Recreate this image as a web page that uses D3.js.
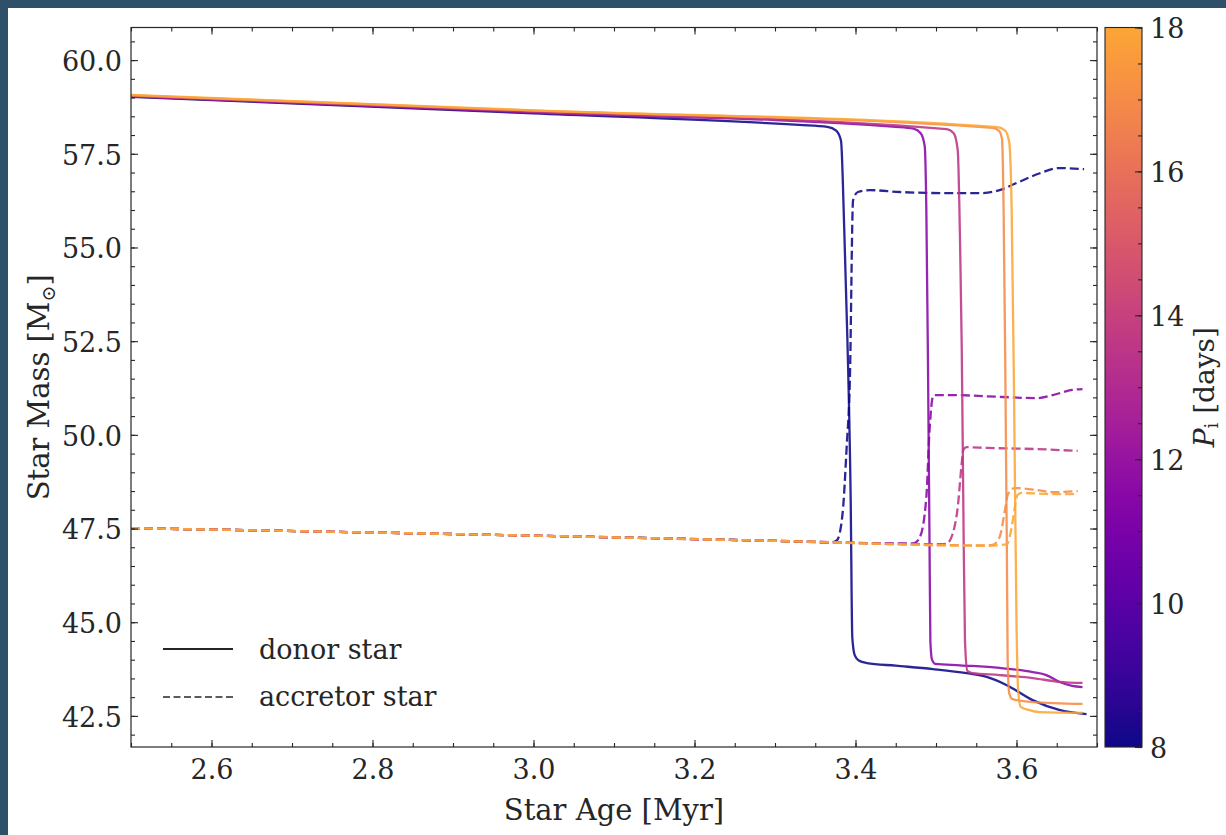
<!DOCTYPE html>
<html><head><meta charset="utf-8">
<script src="https://cdn.jsdelivr.net/npm/d3@7"></script>
<style>
html,body{margin:0;padding:0;background:#2f5069;}
svg{display:block;}
</style></head><body>
<svg id="c" width="1226" height="835"></svg>
<script>
// ---------- data ----------
const periods = [8, 11.5, 13.5, 17, 18];

const donorAge8   = [2.5, 3.0, 3.33, 3.365, 3.376, 3.382, 3.386, 3.390, 3.394, 3.396, 3.399, 3.404, 3.414, 3.45, 3.496, 3.538, 3.563, 3.588, 3.62, 3.653, 3.687];
const donorMass8  = [59.02, 58.58, 58.27, 58.22, 58.12, 57.85, 55.5, 52.5, 48.3, 44.6, 44.12, 43.98, 43.91, 43.84, 43.75, 43.64, 43.54, 43.32, 42.92, 42.66, 42.55];

const donorAge11  = [2.5, 3.0, 3.45, 3.472, 3.481, 3.486, 3.488, 3.490, 3.492, 3.493, 3.495, 3.499, 3.53, 3.579, 3.62, 3.637, 3.653, 3.669, 3.682];
const donorMass11 = [59.03, 58.6, 58.22, 58.17, 58.05, 57.7, 56.0, 52.0, 47.0, 44.5, 44.0, 43.89, 43.85, 43.78, 43.67, 43.59, 43.41, 43.3, 43.27];

const donorAge13  = [2.5, 3.0, 3.513, 3.522, 3.527, 3.530, 3.532, 3.534, 3.536, 3.539, 3.545, 3.579, 3.62, 3.653, 3.682];
const donorMass13 = [59.04, 58.62, 58.16, 58.05, 57.6, 55.0, 52.3, 48.0, 44.5, 43.7, 43.64, 43.59, 43.51, 43.41, 43.38];

const donorAge17  = [2.5, 3.0, 3.57, 3.578, 3.582, 3.584, 3.586, 3.588, 3.589, 3.591, 3.595, 3.62, 3.682];
const donorMass17 = [59.06, 58.65, 58.19, 58.12, 57.9, 56.0, 52.0, 47.0, 44.0, 43.1, 42.95, 42.87, 42.82];

const donorAge18  = [2.5, 3.0, 3.576, 3.586, 3.591, 3.594, 3.597, 3.600, 3.602, 3.605, 3.615, 3.629, 3.682];
const donorMass18 = [59.07, 58.66, 58.21, 58.12, 57.8, 56.0, 51.0, 45.0, 43.2, 42.75, 42.66, 42.6, 42.58];

const accAge8   = [2.5, 3.0, 3.3, 3.37, 3.377, 3.384, 3.389, 3.393, 3.397, 3.403, 3.418, 3.455, 3.517, 3.554, 3.579, 3.600, 3.629, 3.653, 3.684];
const accMass8  = [47.51, 47.31, 47.17, 47.13, 47.19, 47.91, 49.67, 51.46, 56.26, 56.48, 56.53, 56.48, 56.45, 56.45, 56.53, 56.72, 56.98, 57.12, 57.09];

const accAge11  = [2.5, 3.0, 3.3, 3.465, 3.473, 3.480, 3.488, 3.492, 3.496, 3.498, 3.521, 3.583, 3.625, 3.645, 3.669, 3.682];
const accMass11 = [47.51, 47.31, 47.17, 47.1, 47.11, 47.27, 48.34, 50.13, 51.01, 51.06, 51.06, 51.01, 50.98, 51.06, 51.2, 51.22];

const accAge13  = [2.5, 3.0, 3.3, 3.505, 3.513, 3.521, 3.527, 3.532, 3.534, 3.538, 3.563, 3.625, 3.676];
const accMass13 = [47.51, 47.31, 47.17, 47.08, 47.09, 47.38, 48.07, 49.25, 49.6, 49.67, 49.65, 49.62, 49.57];

const accAge17  = [2.5, 3.0, 3.3, 3.56, 3.570, 3.579, 3.585, 3.589, 3.594, 3.598, 3.625, 3.645, 3.676];
const accMass17 = [47.51, 47.31, 47.17, 47.05, 47.06, 47.27, 47.91, 48.39, 48.55, 48.58, 48.53, 48.47, 48.5];

const accAge18  = [2.5, 3.0, 3.3, 3.56, 3.588, 3.594, 3.598, 3.601, 3.606, 3.645, 3.676];
const accMass18 = [47.51, 47.31, 47.17, 47.04, 47.08, 47.54, 48.07, 48.39, 48.45, 48.42, 48.42];

const xTicks = [2.6, 2.8, 3.0, 3.2, 3.4, 3.6];
const yTicks = [42.5, 45.0, 47.5, 50.0, 52.5, 55.0, 57.5, 60.0];
const cTicks = [8, 10, 12, 14, 16, 18];
const legendLabels = ["donor star", "accretor star"];

const donors = [[donorAge8, donorMass8], [donorAge11, donorMass11], [donorAge13, donorMass13], [donorAge17, donorMass17], [donorAge18, donorMass18]];
const accretors = [[accAge8, accMass8], [accAge11, accMass11], [accAge13, accMass13], [accAge17, accMass17], [accAge18, accMass18]];

// ---------- layout ----------
const X0 = 131, X1 = 1097, Y0 = 27.5, Y1 = 747;
const FONT = "'DejaVu Serif', serif";
const INK = "#262626";

const svg = d3.select('#c');
svg.append('rect').attr('x', 8).attr('y', 8).attr('width', 1218).attr('height', 827).attr('fill', '#ffffff');

const x = d3.scaleLinear().domain([2.5, 3.7]).range([X0, X1]);
const y = d3.scaleLinear().domain([41.67, 60.87]).range([Y1, Y0]);
const cScale = d3.scaleLinear().domain([8, 18]).range([Y1, Y0]);
const col = p => d3.interpolatePlasma(0.8 * (p - 8) / 10);

svg.append('defs').append('clipPath').attr('id', 'clip')
  .append('rect').attr('x', X0).attr('y', Y0).attr('width', X1 - X0).attr('height', Y1 - Y0);

const line = d3.line().x(d => x(d[0])).y(d => y(d[1])).curve(d3.curveMonotoneX);
const g = svg.append('g').attr('clip-path', 'url(#clip)');

periods.forEach((p, i) => {
  const dd = donors[i][0].map((a, k) => [a, donors[i][1][k]]);
  const ad = accretors[i][0].map((a, k) => [a, accretors[i][1][k]]);
  g.append('path').attr('d', line(dd)).attr('fill', 'none')
    .attr('stroke', col(p)).attr('stroke-width', 2.3).attr('stroke-opacity', 0.88);
  g.append('path').attr('d', line(ad)).attr('fill', 'none')
    .attr('stroke', col(p)).attr('stroke-width', 2.3).attr('stroke-opacity', 0.88)
    .attr('stroke-dasharray', '9,4');
});

// ---------- axes ----------
function styleAxis(sel) {
  sel.select('.domain').remove();
  sel.selectAll('line').attr('stroke', INK).attr('stroke-width', 1.1);
  sel.selectAll('text').attr('font-family', FONT).attr('font-size', 27).attr('fill', INK);
}
const minorX = d3.range(2.5, 3.7001, 0.05).map(v => +v.toFixed(2));
const minorY = d3.range(42, 60.87, 0.5).map(v => +v.toFixed(1));

svg.append('g').attr('transform', `translate(0,${Y1})`)
  .call(d3.axisBottom(x).tickValues(minorX).tickSize(-4).tickSizeOuter(0).tickFormat('')).call(styleAxis);
svg.append('g').attr('transform', `translate(0,${Y1})`)
  .call(d3.axisBottom(x).tickValues(xTicks).tickSize(-7).tickSizeOuter(0).tickPadding(13).tickFormat(d3.format('.1f'))).call(styleAxis);
svg.append('g').attr('transform', `translate(0,${Y0})`)
  .call(d3.axisTop(x).tickValues(minorX).tickSize(-4).tickSizeOuter(0).tickFormat('')).call(styleAxis);
svg.append('g').attr('transform', `translate(0,${Y0})`)
  .call(d3.axisTop(x).tickValues(xTicks).tickSize(-7).tickSizeOuter(0).tickFormat('')).call(styleAxis);

svg.append('g').attr('transform', `translate(${X0},0)`)
  .call(d3.axisLeft(y).tickValues(minorY).tickSize(-4).tickSizeOuter(0).tickFormat('')).call(styleAxis);
const yl = svg.append('g').attr('transform', `translate(${X0},0)`)
  .call(d3.axisLeft(y).tickValues(yTicks).tickSize(-7).tickSizeOuter(0).tickPadding(9).tickFormat(d3.format('.1f'))).call(styleAxis);
yl.selectAll('text').attr('dy', '0.38em');
svg.append('g').attr('transform', `translate(${X1},0)`)
  .call(d3.axisRight(y).tickValues(minorY).tickSize(-4).tickSizeOuter(0).tickFormat('')).call(styleAxis);
svg.append('g').attr('transform', `translate(${X1},0)`)
  .call(d3.axisRight(y).tickValues(yTicks).tickSize(-7).tickSizeOuter(0).tickFormat('')).call(styleAxis);

svg.append('rect').attr('x', X0).attr('y', Y0).attr('width', X1 - X0).attr('height', Y1 - Y0)
  .attr('fill', 'none').attr('stroke', INK).attr('stroke-width', 1.2);

// axis labels
svg.append('text').attr('x', (X0 + X1) / 2).attr('y', 820).attr('text-anchor', 'middle')
  .attr('font-family', FONT).attr('font-size', 29).attr('fill', INK).text('Star Age [Myr]');
const ylab = svg.append('text').attr('transform', `translate(49,${(Y0 + Y1) / 2}) rotate(-90)`)
  .attr('text-anchor', 'middle').attr('font-family', FONT).attr('font-size', 29).attr('fill', INK);
ylab.append('tspan').text('Star Mass [M');
ylab.append('tspan').attr('font-size', 19).attr('dy', 6).text('\u2299');
ylab.append('tspan').attr('dy', -6).text(']');

// ---------- legend ----------
const lg = svg.append('g');
lg.append('line').attr('x1', 163).attr('x2', 233).attr('y1', 649).attr('y2', 649)
  .attr('stroke', INK).attr('stroke-width', 2);
lg.append('line').attr('x1', 163).attr('x2', 233).attr('y1', 697).attr('y2', 697)
  .attr('stroke', INK).attr('stroke-width', 1.6).attr('stroke-dasharray', '7,3.5');
lg.append('text').attr('x', 259).attr('y', 659).attr('font-family', FONT).attr('font-size', 27).attr('fill', INK).text(legendLabels[0]);
lg.append('text').attr('x', 259).attr('y', 706).attr('font-family', FONT).attr('font-size', 27).attr('fill', INK).text(legendLabels[1]);

// ---------- colorbar ----------
const CB0 = 1105, CB1 = 1142;
const grad = svg.select('defs').append('linearGradient').attr('id', 'cbg')
  .attr('x1', 0).attr('y1', 1).attr('x2', 0).attr('y2', 0);
d3.range(0, 1.0001, 0.05).forEach(t => {
  grad.append('stop').attr('offset', t).attr('stop-color', d3.interpolatePlasma(0.8 * t));
});
svg.append('rect').attr('x', CB0).attr('y', Y0).attr('width', CB1 - CB0).attr('height', Y1 - Y0)
  .attr('fill', 'url(#cbg)');
const minorC = d3.range(8, 18.001, 0.5);
svg.append('g').attr('transform', `translate(${CB1},0)`)
  .call(d3.axisRight(cScale).tickValues(minorC).tickSize(-4).tickSizeOuter(0).tickFormat('')).call(styleAxis);
const cax = svg.append('g').attr('transform', `translate(${CB1},0)`)
  .call(d3.axisRight(cScale).tickValues(cTicks).tickSize(-7).tickSizeOuter(0).tickPadding(8).tickFormat(d3.format('d'))).call(styleAxis);
cax.selectAll('text').attr('dy', '0.38em');
svg.append('rect').attr('x', CB0).attr('y', Y0).attr('width', CB1 - CB0).attr('height', Y1 - Y0)
  .attr('fill', 'none').attr('stroke', INK).attr('stroke-width', 1.1);

const clab = svg.append('text').attr('transform', `translate(1214,${(Y0 + Y1) / 2}) rotate(-90)`)
  .attr('text-anchor', 'middle').attr('font-family', FONT).attr('font-size', 28).attr('fill', INK);
clab.append('tspan').attr('font-style', 'italic').text('P');
clab.append('tspan').attr('font-size', 18).attr('dy', 4).text('i');
clab.append('tspan').attr('dy', -4).text(' [days]');
</script></body></html>
